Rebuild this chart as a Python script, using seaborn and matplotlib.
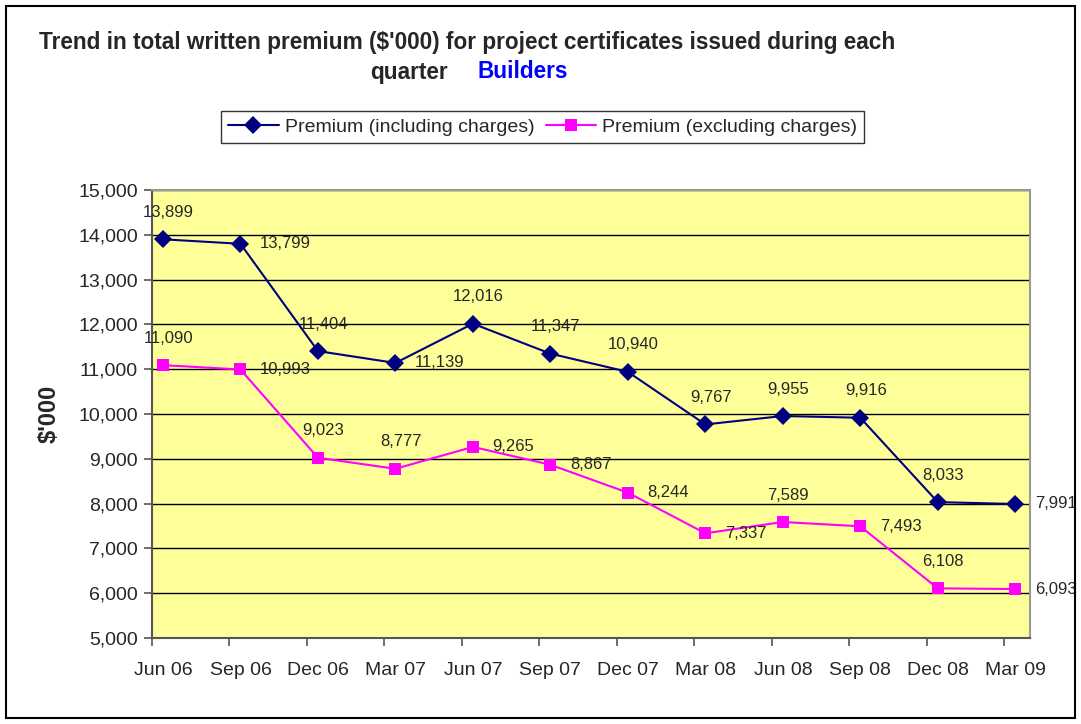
import matplotlib
matplotlib.use("Agg")
import matplotlib.pyplot as plt
import seaborn as sns
import pandas as pd
from matplotlib.patches import Rectangle
from matplotlib.ticker import FuncFormatter, FixedLocator

quarters = ["Jun 06", "Sep 06", "Dec 06", "Mar 07", "Jun 07", "Sep 07",
            "Dec 07", "Mar 08", "Jun 08", "Sep 08", "Dec 08", "Mar 09"]
incl = [13899, 13799, 11404, 11139, 12016, 11347, 10940, 9767, 9955, 9916, 8033, 7991]
excl = [11090, 10993, 9023, 8777, 9265, 8867, 8244, 7337, 7589, 7493, 6108, 6093]
# where each data label sits: "a" = above the point, "r" = right of it
incl_pos = ["a", "r", "a", "r", "a", "a", "a", "a", "a", "a", "a", "r"]
excl_pos = ["a", "r", "a", "a", "r", "r", "r", "r", "a", "r", "a", "r"]

name_in = "Premium (including charges)"
name_ex = "Premium (excluding charges)"
df = pd.DataFrame({
    "x": list(range(len(quarters))) * 2,
    "value": incl + excl,
    "series": [name_in] * len(incl) + [name_ex] * len(excl),
})

sns.set_style("white")
plt.rcParams["font.family"] = ["Liberation Sans", "DejaVu Sans"]

fig = plt.figure(figsize=(10.81, 7.24), dpi=100)
ax = fig.add_axes([0.1406, 0.1188, 0.8122, 0.6188])
ax.set_facecolor("#FFFF99")

sns.lineplot(data=df, x="x", y="value", hue="series", style="series",
             palette={name_in: "#000080", name_ex: "#FF00FF"},
             markers={name_in: "D", name_ex: "s"}, dashes=False,
             markersize=9, markeredgewidth=0, linewidth=1.5, ax=ax, legend=True)

ax.set_xlim(-0.142, 11.19)
ax.set_ylim(5000, 15000)
ax.set_yticks(range(5000, 15001, 1000))
ax.yaxis.set_major_formatter(FuncFormatter(lambda v, p: f"{int(v):,}"))
ax.yaxis.grid(True, color="black", linewidth=1)
ax.set_axisbelow(True)
ax.set_xticks(range(len(quarters)))
ax.set_xticklabels(quarters)
ax.xaxis.set_minor_locator(FixedLocator([i - 0.142 for i in range(len(quarters))]))
ax.tick_params(axis="x", which="major", length=0, pad=17, labelsize=14)
ax.tick_params(axis="x", which="minor", length=6, color="#555555", width=1.2, bottom=True)
ax.tick_params(axis="y", length=6, color="#555555", width=1.2, labelsize=14, left=True, pad=4)
for s in ["top", "right"]:
    ax.spines[s].set_color("#999999")
    ax.spines[s].set_linewidth(1.5)
for s in ["left", "bottom"]:
    ax.spines[s].set_color("#555555")
    ax.spines[s].set_linewidth(1.5)
ax.set_xlabel("")
ax.set_ylabel("$'000", fontsize=17, fontweight="bold", labelpad=13)

def put_labels(vals, where):
    for i, (v, w) in enumerate(zip(vals, where)):
        if w == "a":
            ax.annotate(f"{v:,}", (i, v), xytext=(4, 14), textcoords="offset points",
                        ha="center", va="bottom", fontsize=12)
        else:
            ax.annotate(f"{v:,}", (i, v), xytext=(14, 0), textcoords="offset points",
                        ha="left", va="center", fontsize=12, clip_on=False)

put_labels(incl, incl_pos)
put_labels(excl, excl_pos)

handles, labels = ax.get_legend_handles_labels()
ax.legend_.remove()
fig.legend(handles, labels, loc="center", bbox_to_anchor=(0.502, 0.8246), ncol=2,
           frameon=True, fancybox=False, edgecolor="black", fontsize=14,
           handlelength=2.6, columnspacing=0.6, handletextpad=0.3,
           borderpad=0.35).get_frame().set_linewidth(1)

fig.text(0.432, 1 - 43 / 724, "Trend in total written premium ($'000) for project certificates issued during each",
         ha="center", va="center", fontsize=16.3, fontweight="bold")
fig.text(0.342, 1 - 72 / 724, "quarter", ha="left", va="center", fontsize=16.3, fontweight="bold")
fig.text(0.442, 1 - 72 / 724, "Builders", ha="left", va="center", fontsize=16.3,
         fontweight="bold", color="#0000FF")

fig.patches.append(Rectangle((6 / 1081, 6 / 724), 1 - 12 / 1081, 1 - 12 / 724,
                             transform=fig.transFigure, fill=False,
                             edgecolor="black", linewidth=1.5))

fig.savefig("out.png", dpi=100)
